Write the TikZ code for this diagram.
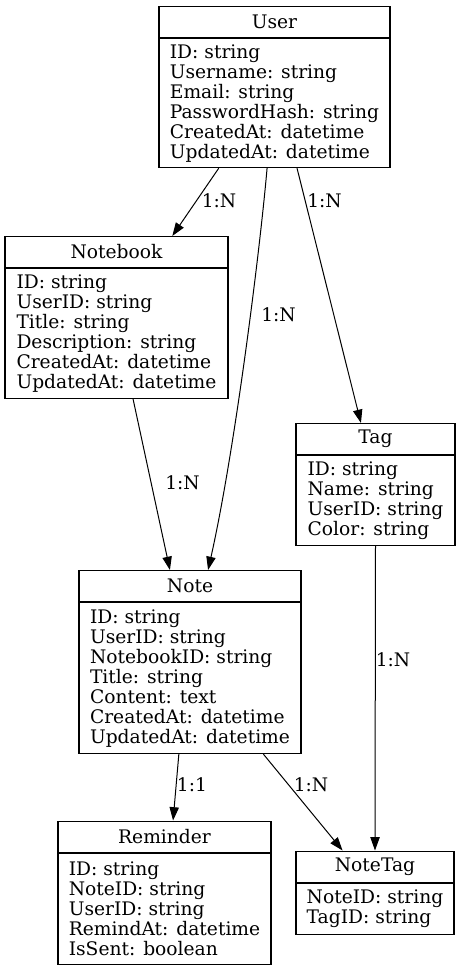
\documentclass[tikz,border=0pt]{standalone}
\usepackage{fontspec}
\setmainfont{DejaVu Serif}
\usetikzlibrary{positioning,calc,arrows.meta}

\begin{document}
\begin{tikzpicture}[x=0.75pt, y=-0.75pt]
      % styles
      \tikzstyle{head} = [rectangle, draw, line width=0.8pt, inner sep=0pt, minimum height=23.25pt, anchor=north, font=\fontsize{14}{15}\selectfont]
      \tikzstyle{fields} = [rectangle, draw, line width=0.8pt, inner sep=0pt, align=left, anchor=north, font=\fontsize{14}{15}\selectfont]
      \tikzstyle{rel} = [-{Triangle[length=10pt, width=7pt]}, line width=0.75pt]
      \tikzstyle{lbl} = [inner sep=0pt, font=\fontsize{14}{15}\selectfont]

      \useasboundingbox (0,0) rectangle (460,968);

      % User
      \node[head, minimum width=173.25pt] (user) at (274.5,6) {User};
      \node[fields, minimum width=173.25pt, minimum height=96.75pt] (userf) at (user.south) {ID: string\\Username: string\\Email: string\\PasswordHash: string\\CreatedAt: datetime\\UpdatedAt: datetime};

      % Notebook
      \node[head, minimum width=167.25pt] (notebook) at (116.5,236) {Notebook};
      \node[fields, minimum width=167.25pt, minimum height=97.5pt] (notebookf) at (notebook.south) {ID: string\\UserID: string\\Title: string\\Description: string\\CreatedAt: datetime\\UpdatedAt: datetime};

      % Tag
      \node[head, minimum width=119.25pt] (tag) at (375.5,423) {Tag};
      \node[fields, minimum width=119.25pt, minimum height=67.5pt] (tagf) at (tag.south) {ID: string\\Name: string\\UserID: string\\Color: string};

      % Note
      \node[head, minimum width=166.5pt] (note) at (190,570) {Note};
      \node[fields, minimum width=166.5pt, minimum height=113.25pt] (notef) at (note.south) {ID: string\\UserID: string\\NotebookID: string\\Title: string\\Content: text\\CreatedAt: datetime\\UpdatedAt: datetime};

      % Reminder
      \node[head, minimum width=159.75pt] (reminder) at (164.5,820.5) {Reminder};
      \node[fields, minimum width=159.75pt, minimum height=83.25pt] (reminderf) at (reminder.south) {ID: string\\NoteID: string\\UserID: string\\RemindAt: datetime\\IsSent: boolean};

      % NoteTag
      \node[head, minimum width=118.5pt] (notetag) at (375,850.5) {NoteTag};
      \node[fields, minimum width=118.5pt, minimum height=38.25pt] (notetagf) at (notetag.south) {NoteID: string\\TagID: string};

      % relations
      \draw[rel] ($(userf.south west)!0.26!(userf.south east)$) -- ($(notebook.north west)!0.749!(notebook.north east)$) node[lbl] at (219,201) {1:N};
      \draw[rel] ($(userf.south west)!0.468!(userf.south east)$) .. controls (260,250) and (235,450) .. ($(note.north west)!0.581!(note.north east)$) node[lbl] at (278.5,315) {1:N};
      \draw[rel] ($(userf.south west)!0.597!(userf.south east)$) -- ($(tag.north west)!0.409!(tag.north east)$) node[lbl] at (324.5,201) {1:N};
      \draw[rel] ($(notebookf.south west)!0.574!(notebookf.south east)$) -- ($(note.north west)!0.41!(note.north east)$) node[lbl] at (182.5,483) {1:N};
      \draw[rel] (tagf.south) -- (notetag.north) node[lbl] at (393,660) {1:N};
      \draw[rel] ($(notef.south west)!0.45!(notef.south east)$) -- ($(reminder.north west)!0.54!(reminder.north east)$) node[lbl] at (192,785) {1:1};
      \draw[rel] ($(notef.south west)!0.829!(notef.south east)$) -- ($(notetag.north west)!0.296!(notetag.north east)$) node[lbl] at (311,785) {1:N};
    \end{tikzpicture}
\end{document}
